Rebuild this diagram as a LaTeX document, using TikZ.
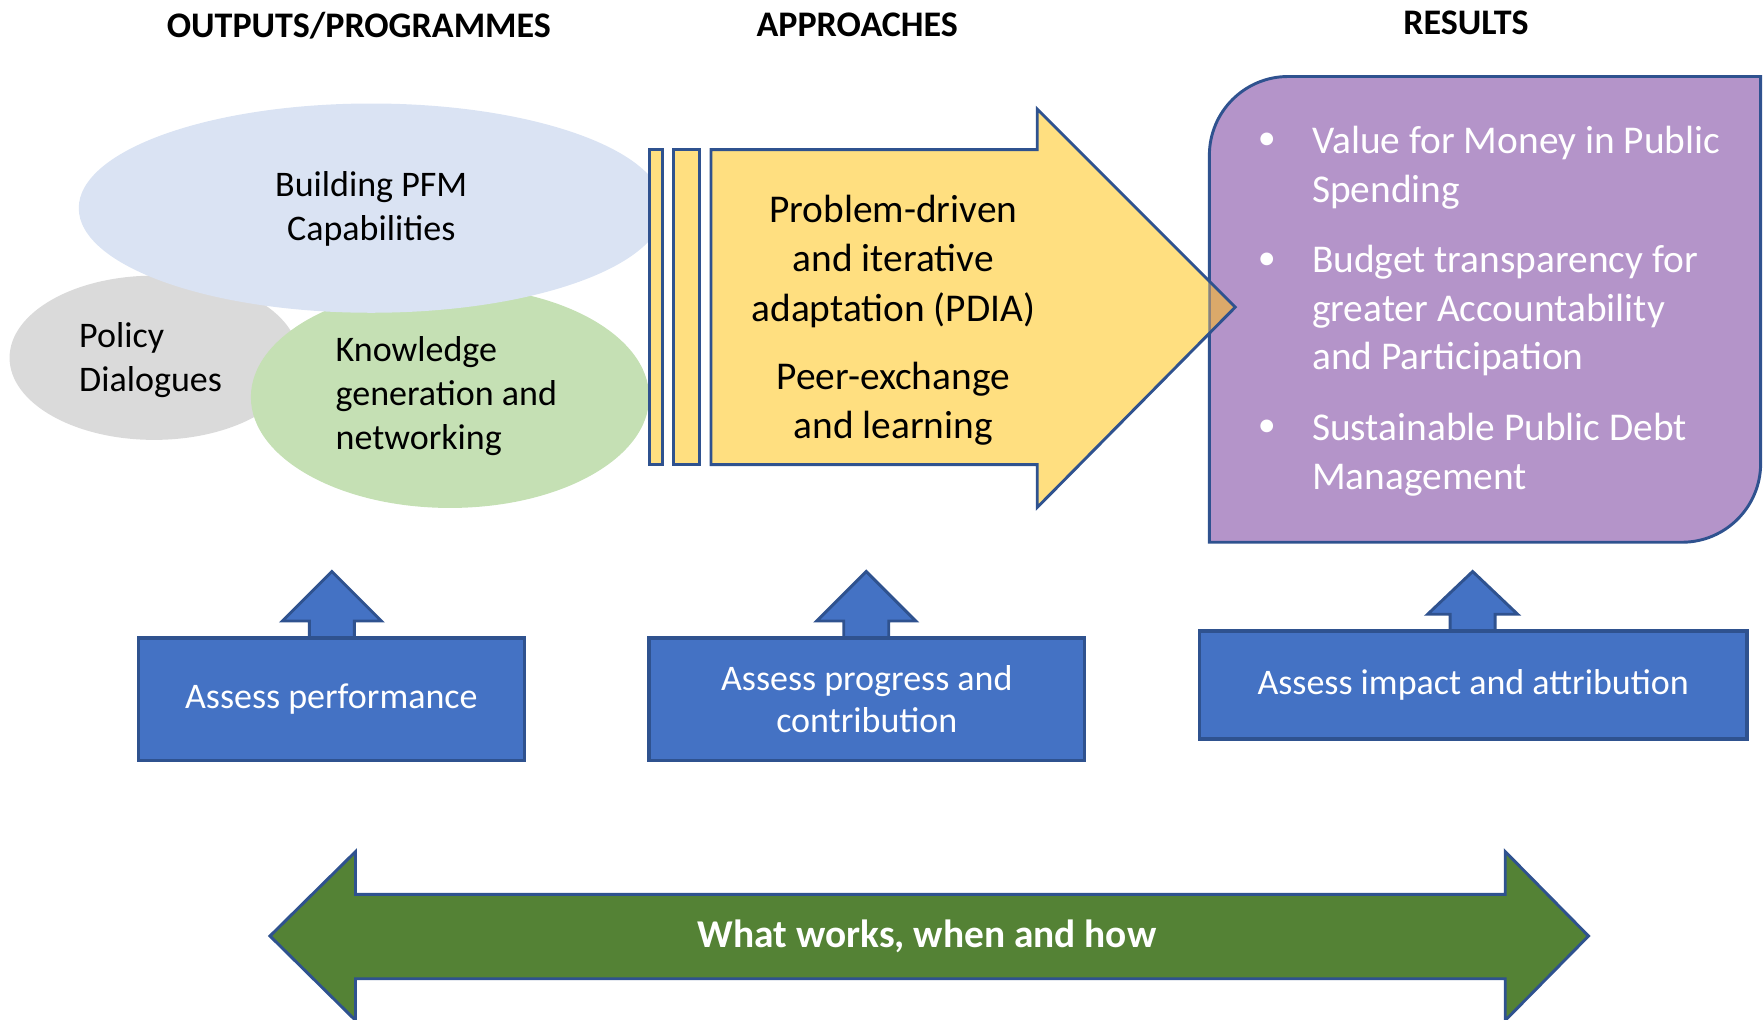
\documentclass[tikz,border=0pt]{standalone}
\usepackage{fontspec}
\setmainfont{Carlito}
\usetikzlibrary{shapes.geometric}
\definecolor{edgeblue}{HTML}{2F528F}
\definecolor{boxblue}{HTML}{4472C4}
\definecolor{arrowyellow}{HTML}{FFDF80}
\definecolor{resultpurple}{HTML}{B494C9}
\definecolor{overlaporange}{HTML}{DBA96A}
\definecolor{pfmblue}{HTML}{DAE3F3}
\definecolor{policygray}{HTML}{DADADA}
\definecolor{knowgreen}{HTML}{C5E0B4}
\definecolor{worksgreen}{HTML}{548235}
\tikzset{
  header/.style={font=\fontsize{16}{19}\selectfont\bfseries},
  blob/.style={ellipse, inner sep=0pt},
  blobtext/.style={font=\fontsize{16}{19.5}\selectfont},
  yellowtext/.style={font=\fontsize{17.5}{22}\selectfont, align=center},
  resulttext/.style={font=\fontsize{17.5}{21.7}\selectfont, text=white, align=left, anchor=west, inner sep=0pt},
  assessbox/.style={draw=edgeblue, fill=boxblue, line width=1.5pt, text=white, align=center,
    font=\fontsize{16}{19}\selectfont},
  shape line/.style={draw=edgeblue, line width=1.3pt, line join=miter}
}
\begin{document}
\begin{tikzpicture}[x=0.5pt,y=-0.5pt]
    \useasboundingbox (0,0) rectangle (1568,906);
    % column headers
    \node[header] (hout) at (319,23) {OUTPUTS/PROGRAMMES};
    \node[header] (happ) at (762,22) {APPROACHES};
    \node[header] (hres) at (1303,20) {RESULTS};

    % outputs / programmes
    \node[blob, fill=policygray, minimum width=128.5pt, minimum height=73pt] (policy) at (137,318) {};
    \node[blob, fill=knowgreen, minimum width=177pt, minimum height=98.5pt] (know) at (400,353) {};
    \node[blob, fill=pfmblue, minimum width=260pt, minimum height=93pt] (pfm) at (330,185) {};
    \node[blobtext, align=center] (pfmtext) at (330,186) {Building PFM\\Capabilities};
    \node[blobtext, align=left, anchor=west, inner sep=0pt] (policytext) at (70,320) {Policy\\Dialogues};
    \node[blobtext, align=left, anchor=west, inner sep=0pt] (knowtext) at (298,352) {Knowledge\\generation and\\networking};

    % results
    \draw[shape line, fill=resultpurple] (1075,482) -- (1075,138) arc[start angle=180, end angle=90, radius=35pt]
        -- (1565,68) -- (1565,412) arc[start angle=0, end angle=-90, radius=35pt] -- cycle;
    \foreach \y in {126,232,381}
        \node[text=white, font=\fontsize{16}{20}\selectfont] at (1126,\y) {\textbullet};
    \node[resulttext] (vfm) at (1166,149) {Value for Money in Public\\Spending};
    \node[resulttext] (budget) at (1166,276) {Budget transparency for\\greater Accountability\\and Participation};
    \node[resulttext] (debt) at (1166,404) {Sustainable Public Debt\\Management};

    % approaches
    \draw[shape line, fill=arrowyellow] (577,133) rectangle (589,413);
    \draw[shape line, fill=arrowyellow] (599,133) rectangle (622,413);
    \fill[arrowyellow] (632,133) -- (922,133) -- (922,97) -- (1098,273) -- (922,451) -- (922,413) -- (632,413) -- cycle;
    \begin{scope}
        \clip (632,133) -- (922,133) -- (922,97) -- (1098,273) -- (922,451) -- (922,413) -- (632,413) -- cycle;
        \fill[overlaporange] (1075,68) rectangle (1565,482);
        \draw[edgeblue, line width=1.3pt, opacity=0.45] (1075,68) -- (1075,482);
    \end{scope}
    \draw[shape line] (632,133) -- (922,133) -- (922,97) -- (1098,273) -- (922,451) -- (922,413) -- (632,413) -- cycle;
    \node[yellowtext] (pdia) at (794,232) {Problem-driven\\and iterative\\adaptation (PDIA)};
    \node[yellowtext] (peer) at (794,359) {Peer-exchange\\and learning};

    % assessment boxes
    \draw[shape line, fill=boxblue] (275,567) -- (275,552) -- (251,552) -- (295,508) -- (339,552) -- (315,552) -- (315,567);
    \draw[shape line, fill=boxblue] (750,567) -- (750,552) -- (726,552) -- (770,508) -- (814,552) -- (790,552) -- (790,567);
    \draw[shape line, fill=boxblue] (1289,561) -- (1289,546) -- (1269,546) -- (1309,508) -- (1349,546) -- (1329,546) -- (1329,561);
    \node[assessbox, minimum width=171.5pt, minimum height=54.5pt] (perf) at (294.5,621.5) {Assess performance};
    \node[assessbox, minimum width=193.5pt, minimum height=54.5pt] (prog) at (770.5,621.5) {Assess progress and\\contribution};
    \node[assessbox, minimum width=243.5pt, minimum height=48pt] (impact) at (1309.5,609) {Assess impact and attribution};

    % what works
    \draw[shape line, fill=worksgreen] (240,832) -- (316,757) -- (316,795) -- (1338,795) -- (1338,757) -- (1412,832)
        -- (1338,907) -- (1338,870) -- (316,870) -- (316,907) -- cycle;
    \node[text=white, font=\fontsize{17.5}{21}\selectfont\bfseries] (works) at (824,832) {What works, when and how};
\end{tikzpicture}
\end{document}
